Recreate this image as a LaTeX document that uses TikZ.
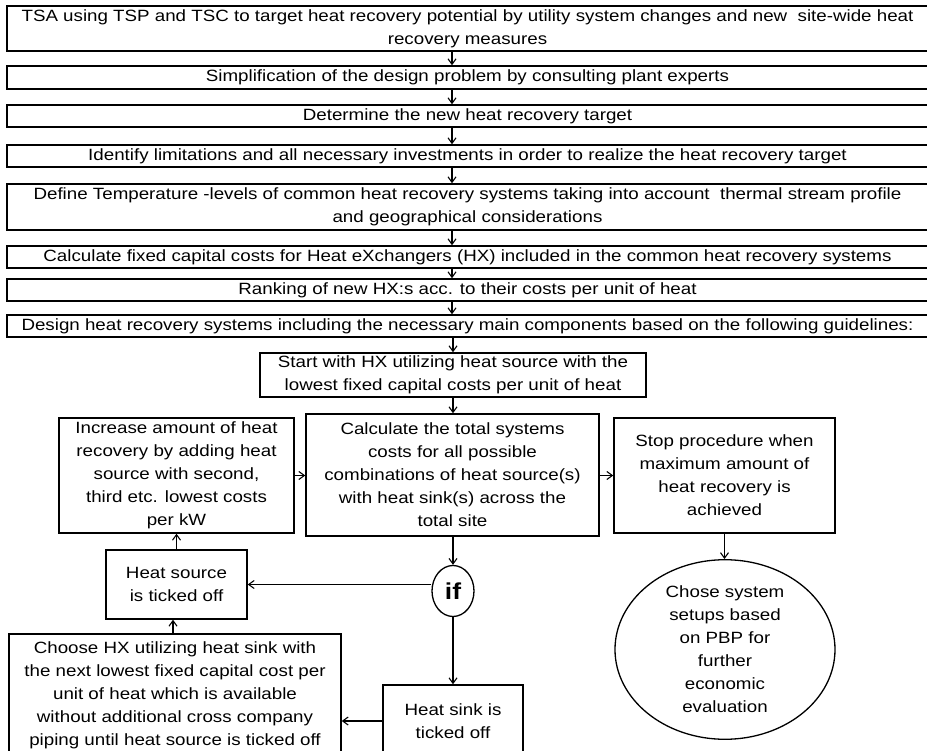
\documentclass[tikz,border=0pt]{standalone}
\usepackage{fontspec}
\setmainfont{Liberation Sans}[FakeStretch=1.15]
\usetikzlibrary{arrows.meta,shapes.geometric}
\newcommand\figfont{\fontsize{16.3pt}{23pt}\selectfont}
\tikzset{
  box/.style={draw, line width=1.5pt, inner sep=0pt, align=center, font=\figfont, rectangle},
  oval/.style={draw, line width=1.3pt, inner sep=0pt, align=center, font=\figfont, ellipse},
  arr/.style={-{Straight Barb[length=5.5pt,width=8pt,line width=1.1pt]}, line width=1.05pt},
}
\begin{document}
\begin{tikzpicture}[x=1pt,y=-1pt]
\useasboundingbox (0,0) rectangle (927,751);
\coordinate (cx) at (452,0);
% top column
\node[box, minimum width=921pt, minimum height=45pt] (b1) at (467.5,28.5)
  {TSA using TSP and TSC to target heat recovery potential by utility system changes and new\ \ site-wide heat\\recovery measures};
\node[box, minimum width=921pt, minimum height=23pt] (b2) at (467.5,77.5)
  {Simplification of the design problem by consulting plant experts};
\node[box, minimum width=921pt, minimum height=22pt] (b3) at (467.5,116)
  {Determine the new heat recovery target};
\node[box, minimum width=921pt, minimum height=22pt] (b4) at (467.5,156)
  {Identify limitations and all necessary investments in order to realize the heat recovery target};
\node[box, minimum width=921pt, minimum height=46pt] (b5) at (467.5,207)
  {Define Temperature -levels of common heat recovery systems taking into account\ \ thermal stream profile\\and geographical considerations};
\node[box, minimum width=921pt, minimum height=22pt] (b6) at (467.5,257)
  {Calculate fixed capital costs for Heat eXchangers (HX) included in the common heat recovery systems};
\node[box, minimum width=921pt, minimum height=22pt] (b7) at (467.5,290)
  {Ranking of new HX:s acc. to their costs per unit of heat};
\node[box, minimum width=921pt, minimum height=22pt] (b8) at (467.5,326)
  {Design heat recovery systems including the necessary main components based on the following guidelines:};
% lower part
\node[box, minimum width=386pt, minimum height=44pt] (start) at (453,375)
  {Start with HX utilizing heat source with the\\lowest fixed capital costs per unit of heat};
\node[box, minimum width=235pt, minimum height=115pt] (inc) at (176.5,475.5)
  {Increase amount of heat\\recovery by adding heat\\source with second,\\third etc. lowest costs\\per kW};
\node[box, minimum width=293pt, minimum height=122pt] (calc) at (452.5,475)
  {Calculate the total systems\\costs for all possible\\combinations of heat source(s)\\with heat sink(s) across the\\total site};
\node[box, minimum width=221pt, minimum height=115pt] (stop) at (724.5,475.5)
  {Stop procedure when\\maximum amount of\\heat recovery is\\achieved};
\node[oval, minimum width=42pt, minimum height=51pt, font=\fontsize{23pt}{26pt}\selectfont\bfseries] (if) at (453,591) {if};
\node[box, minimum width=141pt, minimum height=69pt] (hs) at (176.5,584.5)
  {Heat source\\is ticked off};
\node[oval, minimum width=220pt, minimum height=175pt] (ell) at (725,649.5)
  {Chose system\\setups based\\on PBP for\\further\\economic\\evaluation};
\node[box, minimum width=332pt, minimum height=122pt] (choose) at (175,695)
  {Choose HX utilizing heat sink with\\the next lowest fixed capital cost per\\unit of heat which is available\\without additional cross company\\piping until heat source is ticked off};
\node[box, minimum width=140pt, minimum height=72pt] (sink) at (453,721)
  {Heat sink is\\ticked off};
% connectors
\draw[arr] (b1.south -| cx) -- (b2.north -| cx);
\draw[arr] (b2.south -| cx) -- (b3.north -| cx);
\draw[arr] (b3.south -| cx) -- (b4.north -| cx);
\draw[arr] (b4.south -| cx) -- (b5.north -| cx);
\draw[arr] (b5.south -| cx) -- (b6.north -| cx);
\draw[arr] (b6.south -| cx) -- (b7.north -| cx);
\draw[arr] (b7.south -| cx) -- (b8.north -| cx);
\draw[arr] (b8.south -| start) -- (start.north);
\draw[arr] (start.south) -- (start.south |- calc.north);
\draw[arr] (inc.east) -- (inc.east -| calc.west);
\draw[arr] (calc.east |- stop.west) -- (stop.west);
\draw[arr] (calc.south -| if) -- (if.north);
\draw[arr] (if.west |- hs.east) -- (hs.east);
\draw[arr] (if.south) -- (sink.north);
\draw[arr] (stop.south) -- (stop.south |- ell.north);
\draw[arr] (hs.north) -- (hs.north |- inc.south);
\draw[arr] (choose.north -| 173,0) -- (hs.south -| 173,0);
\draw[arr] (sink.west) -- (sink.west -| choose.east);
\end{tikzpicture}
\end{document}
